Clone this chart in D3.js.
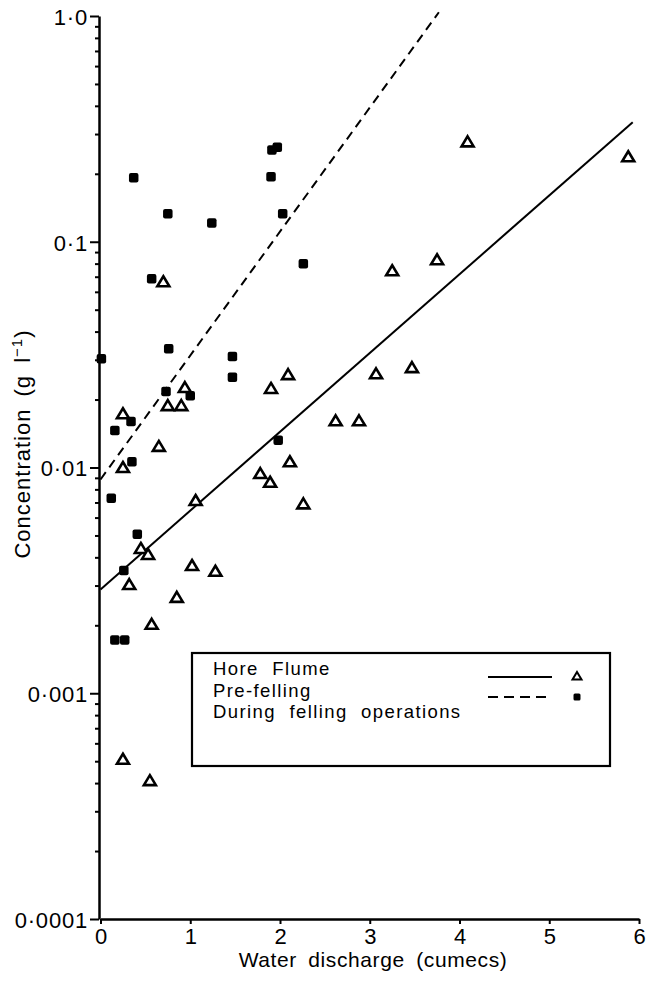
<!DOCTYPE html>
<html><head><meta charset="utf-8">
<script src="https://cdn.jsdelivr.net/npm/d3@7"></script>
<style>
body{margin:0;background:#fff;}
text{font-family:"Liberation Sans",Arial,Helvetica,sans-serif;fill:#000;}
</style></head>
<body><svg id="c" width="647" height="987"></svg>
<script>
// Hore Flume (open triangles)
const floodX = [0.70,0.94,0.75,0.90,0.25,0.65,0.25,1.06,0.45,0.53,1.02,1.28,0.32,0.85,0.57,0.25,0.55,1.90,2.62,2.88,2.11,1.78,1.89,2.26,2.09,3.07,3.47,3.25,3.75,4.09,5.88];
const floodY = [0.0665,0.0226,0.0188,0.0188,0.0173,0.0124,0.0100,0.00714,0.00438,0.00412,0.00368,0.00347,0.00303,0.00266,0.00202,0.00051,0.00041,0.0224,0.0161,0.0161,0.0106,0.0094,0.0086,0.0069,0.0258,0.026,0.0277,0.0744,0.0832,0.277,0.238];
// Pre-felling / during felling (filled squares)
const fellX = [0.01,0.37,0.75,1.24,0.57,0.76,1.47,1.47,0.73,1.00,0.34,0.16,0.35,0.12,0.41,0.26,0.16,0.27,1.91,1.97,1.90,2.03,2.26,1.98];
const fellY = [0.0303,0.192,0.133,0.121,0.0686,0.0336,0.031,0.0251,0.0217,0.0208,0.016,0.0146,0.0106,0.0073,0.00506,0.0035,0.00172,0.00172,0.255,0.262,0.194,0.133,0.080,0.0132];
// fitted regression lines: log10(C) = a + b*Q over [x0, x1]
const fitSolid = {a:-2.54, b:0.349, x0:0, x1:5.93};
const fitDashed = {a:-2.053, b:0.549, x0:0, x1:3.77};
const xTicks = [0,1,2,3,4,5,6];
const yMajor = [1e-4,1e-3,1e-2,1e-1,1];
const yLabels = ["0·0001","0·001","0·01","0·1","1·0"];
const legendNames = ["Hore Flume","Pre-felling","During felling operations"];

const svg = d3.select("#c");
const x = d3.scaleLinear().domain([0,6]).range([100.5,639]);
const y = d3.scaleLog().domain([1e-4,1]).range([919,16]);

// minor ticks
const yMinor = [];
[1e-4,1e-3,1e-2,1e-1].forEach(d=>{for(let k=2;k<=9;k++) yMinor.push(d*k);});

const gyMinor = svg.append("g").attr("transform","translate(99,0)")
  .call(d3.axisLeft(y).tickValues(yMinor).tickSize(4).tickSizeOuter(0).tickFormat(""));
gyMinor.selectAll("line").attr("stroke","#000").attr("stroke-width",2);
gyMinor.select(".domain").remove();

const gy = svg.append("g").attr("transform","translate(99,0)")
  .call(d3.axisLeft(y).tickValues(yMajor).tickSize(9).tickSizeOuter(0).tickPadding(2)
    .tickFormat(d=>yLabels[yMajor.indexOf(d)]));
gy.select(".domain").attr("stroke","#000").attr("stroke-width",2.5);
gy.selectAll("line").attr("stroke","#000").attr("stroke-width",2);
gy.selectAll("text").style("font-size","22px").style("letter-spacing","0.8px").attr("dy","0.38em");

const gx = svg.append("g").attr("transform","translate(0,919)")
  .call(d3.axisBottom(x).tickValues(xTicks).tickSize(5).tickSizeOuter(0).tickPadding(4).tickFormat(d3.format("d")));
gx.select(".domain").attr("stroke","#000").attr("stroke-width",2.5);
gx.selectAll("line").attr("stroke","#000").attr("stroke-width",2);
gx.selectAll("text").style("font-size","22px");

// axis titles
svg.append("text").attr("x",373).attr("y",967).attr("text-anchor","middle")
  .style("font-size","21px").style("letter-spacing","0.6px").style("word-spacing","5px")
  .text("Water discharge (cumecs)");
const yt = svg.append("text").attr("transform","translate(30,444) rotate(-90)")
  .attr("text-anchor","middle").style("font-size","22px").style("letter-spacing","1px").style("word-spacing","5px");
yt.append("tspan").text("Concentration (g l");
yt.append("tspan").attr("dy","-8").style("font-size","15px").text("−1");
yt.append("tspan").attr("dy","8").text(")");

// fitted lines
function fitPts(f){return [f.x0,f.x1].map(q=>[x(q), y(Math.pow(10,f.a+f.b*q))]);}
const line = d3.line();
svg.append("path").attr("d",line(fitPts(fitSolid))).attr("fill","none").attr("stroke","#000").attr("stroke-width",2);
svg.append("path").attr("d",line(fitPts(fitDashed))).attr("fill","none").attr("stroke","#000").attr("stroke-width",2).attr("stroke-dasharray","9,6");

// points
const tri = "M0,-5.5 L6,4.5 L-6,4.5 Z";
svg.append("g").selectAll("rect").data(fellX.map((v,i)=>[v,fellY[i]])).join("rect")
  .attr("x",d=>x(d[0])-4.75).attr("y",d=>y(d[1])-4.75).attr("width",9.5).attr("height",9.5).attr("rx",2)
  .attr("fill","#000");
svg.append("g").selectAll("path").data(floodX.map((v,i)=>[v,floodY[i]])).join("path")
  .attr("d",tri).attr("transform",d=>`translate(${x(d[0])},${y(d[1])})`)
  .attr("fill","#fff").attr("stroke","#000").attr("stroke-width",2.6).attr("stroke-linejoin","miter");

// legend
const lg = svg.append("g");
lg.append("rect").attr("x",192).attr("y",653).attr("width",418).attr("height",113)
  .attr("fill","#fff").attr("stroke","#000").attr("stroke-width",2.2);
legendNames.forEach((t,i)=>{
  lg.append("text").attr("x",213).attr("y",675+i*21.5).style("font-size","18.5px")
    .style("letter-spacing","1.4px").style("word-spacing","7px").text(t);
});
lg.append("line").attr("x1",488).attr("x2",552).attr("y1",677).attr("y2",677).attr("stroke","#000").attr("stroke-width",1.8);
lg.append("line").attr("x1",488).attr("x2",552).attr("y1",697).attr("y2",697).attr("stroke","#000").attr("stroke-width",1.8).attr("stroke-dasharray","10,6");
lg.append("path").attr("d","M0,-4 L4.5,3.5 L-4.5,3.5 Z").attr("transform","translate(577,676)")
  .attr("fill","#fff").attr("stroke","#000").attr("stroke-width",2);
lg.append("rect").attr("x",573.5).attr("y",693.5).attr("width",7).attr("height",7).attr("rx",1.5).attr("fill","#000");
</script></body></html>
